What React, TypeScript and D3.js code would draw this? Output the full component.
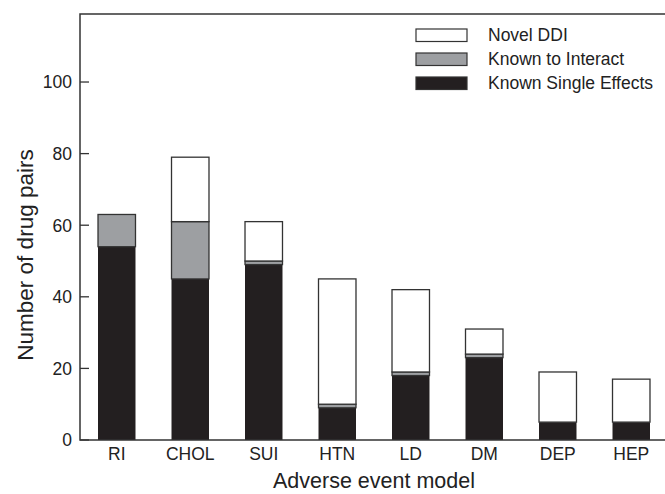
import React, { useEffect, useRef } from 'react';
import * as d3 from 'd3';

const models = ['RI', 'CHOL', 'SUI', 'HTN', 'LD', 'DM', 'DEP', 'HEP'];
const knownSingle = [54, 45, 49, 9, 18, 23, 5, 5];
const knownInteract = [9, 16, 1, 1, 1, 1, 0, 0];
const novelDDI = [0, 18, 11, 35, 23, 7, 14, 12];
const yTicks = [0, 20, 40, 60, 80, 100];

const seriesKeys = ['single', 'interact', 'novel'];
const seriesNames = ['Known Single Effects', 'Known to Interact', 'Novel DDI'];
const seriesColors = ['#231f20', '#9d9fa2', '#ffffff'];

const W = 665;
const H = 494;
const margin = { top: 14, right: -3, bottom: 54, left: 80 };

export default function App() {
  const ref = useRef<SVGSVGElement>(null);

  useEffect(() => {
    const svg = d3.select(ref.current);
    svg.selectAll('*').remove();

    const font = 'Liberation Sans, Arial, Helvetica, sans-serif';
    const ink = '#333';

    const rows = models.map((m, i) => ({
      model: m,
      single: knownSingle[i],
      interact: knownInteract[i],
      novel: novelDDI[i],
    }));

    const x = d3.scaleBand()
      .domain(models)
      .range([margin.left, W - margin.right])
      .paddingInner(0.49)
      .paddingOuter(0.245);

    const y = d3.scaleLinear()
      .domain([0, 119])
      .range([H - margin.bottom, margin.top]);

    const stack = d3.stack<any>().keys(seriesKeys);
    const layers = stack(rows);

    const g = svg.append('g');
    layers.forEach((layer, li) => {
      g.selectAll(null)
        .data(layer.filter((d) => d[1] - d[0] > 0))
        .enter()
        .append('rect')
        .attr('x', (d: any) => x(d.data.model)!)
        .attr('width', x.bandwidth())
        .attr('y', (d) => y(d[1]))
        .attr('height', (d) => y(d[0]) - y(d[1]))
        .attr('fill', seriesColors[li])
        .attr('stroke', li === 0 ? 'none' : ink)
        .attr('stroke-width', 1.3);
    });

    // frame: left, bottom, top
    const x0 = margin.left;
    const x1 = W;
    const yb = H - margin.bottom;
    const yt = margin.top;
    svg.append('path')
      .attr('d', `M${x1},${yt}H${x0}V${yb}H${x1}`)
      .attr('fill', 'none')
      .attr('stroke', ink)
      .attr('stroke-width', 1.5);

    // y ticks (inward)
    const yAxis = svg.append('g');
    yTicks.forEach((t) => {
      yAxis.append('line')
        .attr('x1', x0).attr('x2', x0 + 9)
        .attr('y1', y(t)).attr('y2', y(t))
        .attr('stroke', ink).attr('stroke-width', 1.3);
      yAxis.append('text')
        .attr('x', x0 - 8)
        .attr('y', y(t))
        .attr('dy', '0.36em')
        .attr('text-anchor', 'end')
        .attr('font-family', font)
        .attr('font-size', 17.5)
        .attr('fill', '#222')
        .text(t);
    });

    // x labels
    svg.append('g')
      .selectAll('text')
      .data(models)
      .enter()
      .append('text')
      .attr('x', (d) => x(d)! + x.bandwidth() / 2)
      .attr('y', yb + 19.5)
      .attr('text-anchor', 'middle')
      .attr('font-family', font)
      .attr('font-size', 17.5)
      .attr('fill', '#222')
      .text((d) => d);

    svg.append('text')
      .attr('x', 273)
      .attr('y', 488)
      .attr('font-family', font)
      .attr('font-size', 21.5)
      .attr('fill', '#222')
      .text('Adverse event model');

    svg.append('text')
      .attr('transform', `translate(33,255) rotate(-90)`)
      .attr('text-anchor', 'middle')
      .attr('font-family', font)
      .attr('font-size', 22.5)
      .attr('fill', '#222')
      .text('Number of drug pairs');

    // legend
    const legendOrder = [2, 1, 0];
    const leg = svg.append('g');
    legendOrder.forEach((si, i) => {
      const ly = 29 + i * 24;
      leg.append('rect')
        .attr('x', 416)
        .attr('y', ly)
        .attr('width', 51)
        .attr('height', 12.5)
        .attr('fill', seriesColors[si])
        .attr('stroke', ink)
        .attr('stroke-width', 1.2);
      leg.append('text')
        .attr('x', 488)
        .attr('y', ly + 11.7)
        .attr('font-family', font)
        .attr('font-size', 17.5)
        .attr('fill', '#222')
        .text(seriesNames[si]);
    });
  }, []);

  return (
    <svg
      ref={ref}
      width={W}
      height={H}
      style={{ position: 'absolute', left: 0, top: 0, background: '#fff' }}
    />
  );
}
